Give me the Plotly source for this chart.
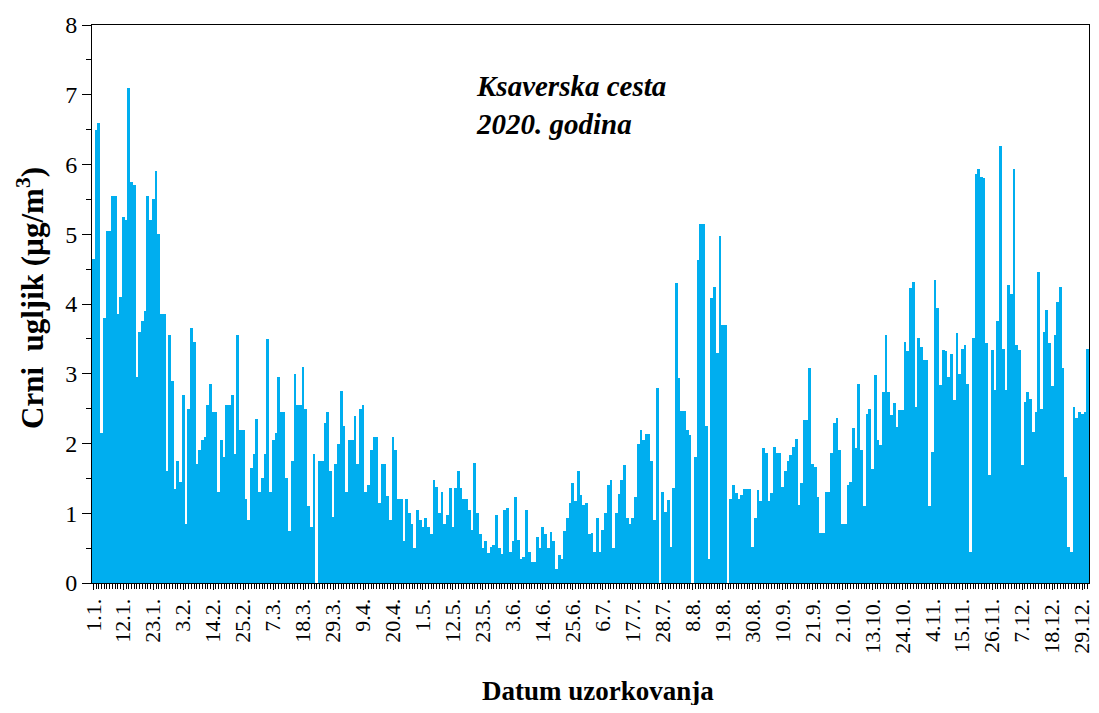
import plotly.graph_objects as go

# Daily black carbon concentration (µg/m3), Ksaverska cesta, 2020 (366 days)
values = [
    4.65, 6.5, 6.6, 2.15, 3.8, 5.05, 5.05, 5.55, 5.55, 3.85,
    4.1, 5.25, 5.2, 7.1, 5.75, 5.7, 2.95, 3.6, 3.75, 3.9,
    5.55, 5.2, 5.5, 5.9, 5.0, 3.85, 3.85, 1.6, 3.55, 2.9,
    1.35, 1.75, 1.45, 2.7, 0.85, 2.5, 3.65, 3.45, 1.7, 1.9,
    2.05, 2.1, 2.55, 2.85, 2.45, 2.45, 1.3, 2.05, 1.8, 2.55,
    2.55, 2.7, 1.85, 3.55, 2.2, 2.2, 1.2, 0.9, 1.65, 1.85,
    2.35, 1.3, 1.5, 1.85, 3.5, 1.3, 2.05, 2.15, 2.95, 2.45,
    2.45, 1.5, 0.75, 1.75, 3.0, 2.55, 2.55, 3.1, 2.5, 1.1,
    0.8, 1.85, 0, 1.75, 1.75, 2.3, 2.45, 1.6, 0.95, 1.7,
    2.0, 2.75, 2.25, 1.3, 2.05, 2.05, 2.4, 1.7, 2.5, 2.55,
    1.3, 1.4, 1.9, 2.1, 2.1, 1.15, 1.7, 1.7, 1.25, 0.9,
    2.1, 1.9, 1.2, 1.2, 0.6, 1.2, 1.0, 0.85, 0.5, 1.05,
    0.9, 0.8, 0.93, 0.8, 0.7, 1.48, 1.38, 1.0, 1.3, 0.85,
    0.97, 1.36, 0.8, 1.36, 1.6, 1.36, 1.2, 1.2, 1.05, 0.76,
    1.72, 1.0, 0.7, 0.5, 0.6, 0.43, 0.52, 0.55, 0.97, 0.5,
    0.42, 1.05, 1.07, 0.45, 0.6, 1.24, 0.62, 0.35, 0.38, 1.05,
    0.45, 0.3, 0.3, 0.66, 0.5, 0.8, 0.7, 0.5, 0.73, 0.6,
    0.2, 0.4, 0.35, 0.75, 0.93, 1.14, 1.43, 1.17, 1.6, 1.26,
    1.12, 1.14, 0.7, 0.71, 0.45, 0.93, 0.45, 0.76, 1.0, 1.4,
    1.48, 0.5, 1.0, 1.28, 1.48, 1.69, 0.93, 0.85, 0.93, 1.24,
    2.0, 2.19, 2.05, 2.14, 2.14, 1.75, 0.9, 2.79, 0, 1.31,
    1.02, 1.19, 0.52, 1.36, 4.3, 2.94, 2.46, 2.46, 2.19, 2.12,
    0, 1.81, 4.63, 5.15, 5.15, 2.25, 0.35, 4.08, 4.25, 3.3,
    4.97, 3.7, 3.7, 0, 1.2, 1.4, 1.29, 1.2, 1.26, 1.35,
    1.35, 1.35, 0.52, 0.93, 1.33, 1.17, 1.93, 1.86, 1.17, 1.29,
    1.95, 1.86, 1.86, 1.38, 1.6, 1.75, 1.84, 1.95, 2.07, 1.12,
    1.43, 2.34, 2.34, 3.08, 1.71, 1.67, 1.24, 0.71, 0.71, 1.31,
    1.31, 1.86, 2.29, 2.36, 1.9, 0.85, 0.85, 1.4, 1.45, 2.22,
    1.93, 2.86, 1.9, 1.1, 2.43, 2.5, 1.64, 2.98, 2.05, 1.98,
    2.74, 3.56, 2.74, 2.41, 2.58, 2.24, 2.48, 2.48, 3.45, 3.32,
    4.23, 4.32, 2.53, 3.51, 3.39, 3.2, 3.2, 1.1, 1.88, 4.34,
    3.94, 2.84, 3.34, 3.32, 2.96, 3.29, 2.62, 3.58, 2.99, 3.36,
    3.41, 2.86, 0.45, 3.51, 5.87, 5.93, 5.82, 5.8, 3.44, 1.55,
    3.34, 2.77, 3.75, 6.27, 3.36, 2.77, 4.27, 4.15, 5.93, 3.41,
    3.34, 1.69, 2.6, 2.74, 2.64, 2.17, 2.45, 4.46, 2.5, 3.6,
    3.91, 3.44, 2.82, 3.56, 4.03, 4.25, 3.08, 1.52, 0.52, 0.45,
    2.53, 2.36, 2.45, 2.43, 2.45, 3.36,
]
days = list(range(len(values)))

tick_labels = ["1.1.", "12.1.", "23.1.", "3.2.", "14.2.", "25.2.", "7.3.", "18.3.",
               "29.3.", "9.4.", "20.4.", "1.5.", "12.5.", "23.5.", "3.6.", "14.6.",
               "25.6.", "6.7.", "17.7.", "28.7.", "8.8.", "19.8.", "30.8.", "10.9.",
               "21.9.", "2.10.", "13.10.", "24.10.", "4.11.", "15.11.", "26.11.",
               "7.12.", "18.12.", "29.12."]
tick_days = [i * 11 for i in range(len(tick_labels))]

y_ticks = [0, 1, 2, 3, 4, 5, 6, 7, 8]

FONT = "Liberation Serif, Times New Roman, serif"

fig = go.Figure(go.Bar(
    x=days, y=values,
    marker=dict(color="#00AEEF", line=dict(width=0)),
    width=1.0,
))

# page has an 8px body margin; keep the figure inside the viewport
OFF = 8
W, H = 1083, 697
ml, mr, mt, mb = 84, 2, 17, 122
pw, ph = W - ml - mr, H - mt - mb

def px(xpage):
    return (xpage - OFF - ml) / pw

def py(ypage):
    return (H - mb - (ypage - OFF)) / ph

fig.update_layout(
    width=W, height=H,
    margin=dict(l=ml, r=mr, t=mt, b=mb, autoexpand=False),
    paper_bgcolor="white", plot_bgcolor="white",
    bargap=0, showlegend=False,
    font=dict(family=FONT, color="black"),
    xaxis=dict(
        range=[-0.5, len(values) - 0.5],
        tickmode="array", tickvals=tick_days, ticktext=tick_labels,
        tickangle=-90, tickfont=dict(size=22, family=FONT),
        ticklabeloverflow="allow",
        ticks="outside", ticklen=6, tickcolor="black", tickwidth=1,
        minor=dict(tickmode="linear", tick0=0, dtick=1, ticks="outside",
                   ticklen=5, tickcolor="black", tickwidth=1),
        showline=True, linecolor="black", linewidth=1, mirror=True,
        showgrid=False, zeroline=False, automargin=False,
    ),
    yaxis=dict(
        range=[0, 8], tickmode="array", tickvals=y_ticks,
        tickfont=dict(size=24, family=FONT),
        ticks="outside", ticklen=9, tickcolor="black", tickwidth=1,
        minor=dict(tickmode="linear", tick0=0, dtick=0.5, ticks="outside",
                   ticklen=5, tickcolor="black", tickwidth=1),
        showline=True, linecolor="black", linewidth=1, mirror=True,
        showgrid=False, zeroline=False, automargin=False,
    ),
    annotations=[
        dict(text="<b><i>Ksaverska cesta<br>2020. godina</i></b>",
             xref="paper", yref="paper", x=px(474), y=py(68),
             xanchor="left", yanchor="top", align="left", showarrow=False,
             font=dict(size=29, family=FONT)),
        dict(text="<b>Datum uzorkovanja</b>",
             xref="paper", yref="paper", x=px(598), y=py(691),
             xanchor="center", yanchor="middle", showarrow=False,
             font=dict(size=27, family=FONT)),
        dict(text="<b>Crni  ugljik (µg/m<sup>3</sup>)</b>",
             xref="paper", yref="paper", x=px(30), y=py(298),
             xanchor="center", yanchor="middle", textangle=-90, showarrow=False,
             font=dict(size=31, family=FONT)),
    ],
)

fig.write_html("out.html")
